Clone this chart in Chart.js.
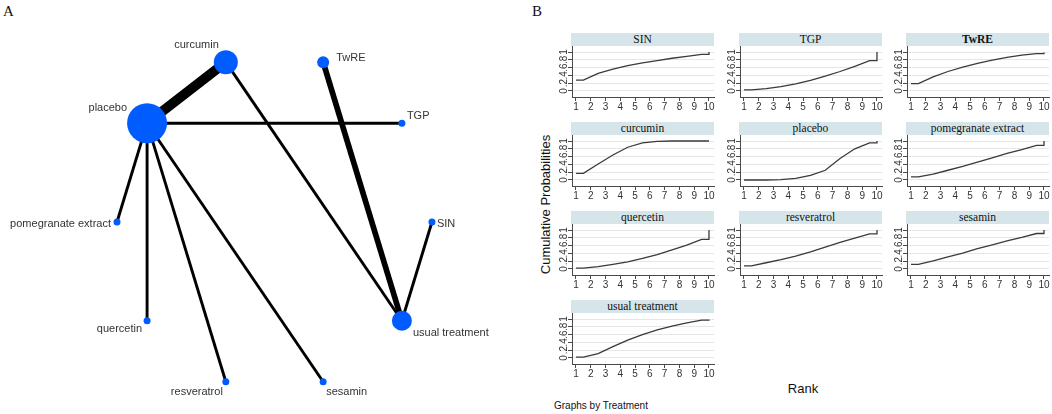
<!DOCTYPE html>
<html>
<head>
<meta charset="utf-8">
<script src="https://cdn.jsdelivr.net/npm/chart.js@4.4.0/dist/chart.umd.min.js"></script>
<style>
body { margin:0; background:#fff; width:1052px; height:414px; overflow:hidden; position:relative; font-family:"Liberation Sans", Arial, sans-serif; }
.abs { position:absolute; }
.strip { position:absolute; width:143px; height:13px; line-height:13px; background:#d6e5ea; text-align:center; font:11.5px "Liberation Serif", "Times New Roman", serif; color:#111; }
.letter { position:absolute; font:15px "Liberation Serif", "Times New Roman", serif; color:#111; }
</style>
</head>
<body>
<div class="letter" style="left:3px;top:3px">A</div>
<div class="letter" style="left:532px;top:3px">B</div>
<div class="abs" style="left:0;top:0;width:520px;height:414px"><canvas id="network" width="520" height="414"></canvas></div>
<div id="panels"></div>
<div class="abs" style="left:445px;top:197px;width:200px;text-align:center;font-size:13px;color:#111;transform:rotate(-90deg)">Cumulative Probabilities</div>
<div class="abs" style="left:703px;top:381px;width:200px;text-align:center;font-size:13px;color:#111">Rank</div>
<div class="abs" style="left:554px;top:400px;font-size:10px;color:#111">Graphs by Treatment</div>

<script>
// ---- A: network of comparisons ----
// nodes in the order they sit round the circle (starting at 3 o'clock)
var networkOrder = ['SIN', 'TGP', 'TwRE', 'curcumin', 'placebo', 'pomegranate extract',
                    'quercetin', 'resveratrol', 'sesamin', 'usual treatment'];
var nodeWeight = [49, 49, 144, 576, 1600, 49, 49, 49, 49, 400];

var edgeFrom = ['placebo', 'placebo', 'placebo', 'placebo', 'placebo', 'placebo', 'curcumin', 'TwRE', 'SIN'];
var edgeTo = ['curcumin', 'TGP', 'pomegranate extract', 'quercetin', 'resveratrol', 'sesamin',
              'usual treatment', 'usual treatment', 'usual treatment'];
var edgeStudies = [6, 1, 1, 1, 1, 1, 1, 3, 1];

// ---- B: cumulative ranking curves ----
var treatments = ['SIN', 'TGP', 'TwRE', 'curcumin', 'placebo', 'pomegranate extract',
                  'quercetin', 'resveratrol', 'sesamin', 'usual treatment'];
var rankPos = [1, 1.5, 2.5, 3.5, 4.5, 5.5, 6.5, 7.5, 8.5, 9.5, 10, 10];
var rankTicks = [1, 2, 3, 4, 5, 6, 7, 8, 9, 10];
var probTicks = [0, 0.2, 0.4, 0.6, 0.8, 1];
var probTickText = ['0', '.2', '.4', '.6', '.8', '1'];

var sinCum = [0.28, 0.28, 0.45, 0.56, 0.65, 0.72, 0.78, 0.84, 0.89, 0.94, 0.94, 1];
var tgpCum = [0.03, 0.03, 0.06, 0.11, 0.18, 0.27, 0.38, 0.50, 0.63, 0.78, 0.78, 1];
var twreCum = [0.19, 0.19, 0.36, 0.50, 0.61, 0.71, 0.79, 0.86, 0.92, 0.96, 0.96, 0.99];
var curcuminCum = [0.17, 0.17, 0.41, 0.64, 0.84, 0.95, 0.99, 1, 1, 1, 1, 1];
var placeboCum = [0, 0, 0, 0.01, 0.04, 0.12, 0.25, 0.55, 0.80, 0.95, 0.95, 1];
var pomegranateCum = [0.08, 0.08, 0.15, 0.25, 0.35, 0.46, 0.57, 0.68, 0.78, 0.89, 0.89, 1];
var quercetinCum = [0.02, 0.02, 0.06, 0.12, 0.18, 0.27, 0.37, 0.49, 0.61, 0.76, 0.76, 1];
var resveratrolCum = [0.08, 0.08, 0.16, 0.24, 0.33, 0.44, 0.56, 0.68, 0.79, 0.90, 0.90, 1];
var sesaminCum = [0.12, 0.12, 0.21, 0.31, 0.41, 0.52, 0.62, 0.72, 0.81, 0.91, 0.91, 1];
var usualCum = [0.02, 0.02, 0.11, 0.29, 0.46, 0.60, 0.72, 0.82, 0.90, 0.97, 0.97, 0.99];

var cumSeries = [sinCum, tgpCum, twreCum, curcuminCum, placeboCum, pomegranateCum,
                 quercetinCum, resveratrolCum, sesaminCum, usualCum];

// label placement round each node: [dx, dy, align]
var labelOffset = {
    'SIN': [5, 2, 'left'],
    'TGP': [5, -7, 'left'],
    'TwRE': [13, -4, 'left'],
    'curcumin': [-7, -17, 'right'],
    'placebo': [-20, -15, 'right'],
    'pomegranate extract': [-6, 2, 'right'],
    'quercetin': [-5, 8, 'right'],
    'resveratrol': [-3, 10, 'right'],
    'sesamin': [3, 10, 'left'],
    'usual treatment': [11, 12, 'left']
};

var nodeColor = '#005cff';
var lineColor = '#3a3a3a';
var axisColor = '#4a4a4a';
var tickFont = {family: '"Liberation Sans", Arial, sans-serif', size: 10};

// circular layout, as networkplot does it
var layout = networkOrder.map(function(name, i) {
    var a = i * 2 * Math.PI / networkOrder.length;
    return {x: Math.cos(a), y: Math.sin(a)};
});
function nodeAt(name) {
    return layout[networkOrder.indexOf(name)];
}

var datasets = [{
    data: layout,
    pointRadius: nodeWeight.map(function(w) { return Math.sqrt(w) / 2; }),
    pointBackgroundColor: nodeColor,
    pointBorderColor: nodeColor,
    pointBorderWidth: 0,
    order: 0
}];
for (var e = 0; e < edgeFrom.length; e++) {
    datasets.push({
        data: [nodeAt(edgeFrom[e]), nodeAt(edgeTo[e])],
        showLine: true,
        pointRadius: 0,
        borderColor: '#000',
        borderWidth: 1.5 + 1.4 * edgeStudies[e],
        borderCapStyle: 'butt',
        order: 1
    });
}

var nodeLabels = {
    id: 'nodeLabels',
    afterDatasetsDraw: function(chart) {
        var ctx = chart.ctx;
        ctx.save();
        ctx.font = '11px "Liberation Sans", Arial, sans-serif';
        ctx.fillStyle = '#333';
        ctx.textBaseline = 'middle';
        for (var i = 0; i < networkOrder.length; i++) {
            var px = chart.scales.x.getPixelForValue(layout[i].x);
            var py = chart.scales.y.getPixelForValue(layout[i].y);
            var o = labelOffset[networkOrder[i]];
            ctx.textAlign = o[2];
            ctx.fillText(networkOrder[i], px + o[0], py + o[1]);
        }
        ctx.restore();
    }
};

new Chart(document.getElementById('network'), {
    type: 'scatter',
    data: {datasets: datasets},
    options: {
        responsive: false,
        animation: false,
        layout: {padding: 0, autoPadding: false},
        plugins: {legend: {display: false}, tooltip: {enabled: false}},
        scales: {
            x: {display: false, min: -1.743, max: 1.559},
            y: {display: false, min: -1.143, max: 1.321}
        }
    },
    plugins: [nodeLabels]
});

// small multiples, 3 per row
var panels = document.getElementById('panels');
treatments.forEach(function(name, i) {
    var row = Math.floor(i / 3), col = i % 3;
    var left = Math.round(571 + col * 167.5);
    var top = Math.round(33 + row * 89);

    var strip = document.createElement('div');
    strip.className = 'strip';
    strip.style.left = left + 'px';
    strip.style.top = top + 'px';
    strip.textContent = name;
    if (name === 'TwRE') strip.style.fontWeight = 'bold';
    panels.appendChild(strip);

    var box = document.createElement('div');
    box.className = 'abs';
    box.style.left = (left - 14) + 'px';
    box.style.top = (top + 13) + 'px';
    var cv = document.createElement('canvas');
    cv.width = 163;
    cv.height = 68;
    box.appendChild(cv);
    panels.appendChild(box);

    new Chart(cv, {
        type: 'scatter',
        data: {
            datasets: [{
                data: rankPos.map(function(r, j) { return {x: r, y: cumSeries[i][j]}; }),
                showLine: true,
                pointRadius: 0,
                borderColor: lineColor,
                borderWidth: 1.3,
                tension: 0
            }]
        },
        options: {
            responsive: false,
            animation: false,
            layout: {padding: {right: 6}, autoPadding: false},
            plugins: {legend: {display: false}, tooltip: {enabled: false}},
            scales: {
                x: {
                    type: 'linear', min: 0.73, max: 10.34,
                    afterBuildTicks: function(s) { s.ticks = rankTicks.map(function(v) { return {value: v}; }); },
                    afterFit: function(s) { s.height = 17; s.paddingLeft = 0; s.paddingRight = 0; },
                    ticks: {autoSkip: false, minRotation: 0, maxRotation: 0, padding: 0, color: '#333', font: tickFont},
                    grid: {drawOnChartArea: false, tickColor: axisColor, tickLength: 4},
                    border: {color: axisColor, width: 1}
                },
                y: {
                    type: 'linear', min: -0.154, max: 1.154,
                    afterBuildTicks: function(s) { s.ticks = probTicks.map(function(v) { return {value: v}; }); },
                    afterFit: function(s) { s.width = 15; s.paddingTop = 0; s.paddingBottom = 0; },
                    ticks: {
                        autoSkip: false,
                        minRotation: 90, maxRotation: 90, crossAlign: 'center', padding: 0,
                        color: '#333', font: tickFont,
                        callback: function(v, idx) { return probTickText[idx]; }
                    },
                    grid: {color: '#e6e6e6', tickColor: axisColor, tickLength: 4},
                    border: {color: axisColor, width: 1}
                }
            }
        }
    });
});
</script>
</body>
</html>
